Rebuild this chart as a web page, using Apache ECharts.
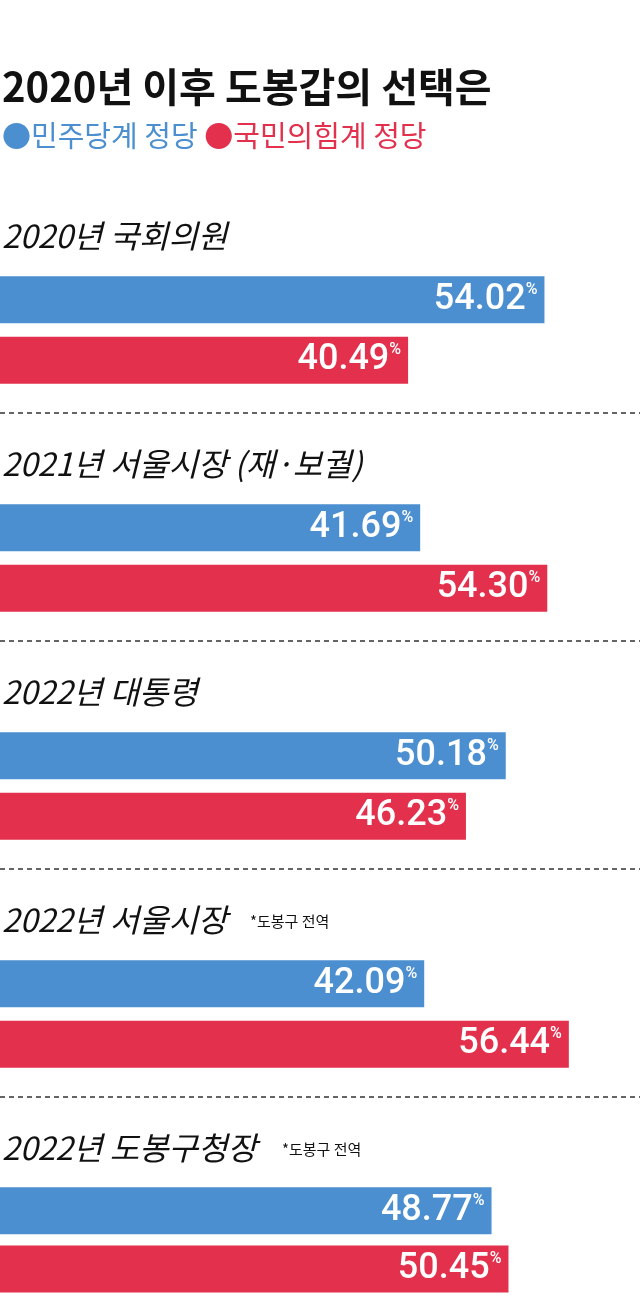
<!DOCTYPE html><html><head><meta charset="utf-8">
<script src="https://cdn.jsdelivr.net/npm/echarts@6/dist/echarts.min.js"></script>
<style>html,body{margin:0;padding:0;background:#fff}#c{width:640px;height:1298px}</style></head><body><div id="c"></div>
<script>
const sections=['2020년 국회의원','2021년 서울시장 (재·보궐)','2022년 대통령','2022년 서울시장','2022년 도봉구청장'];
const notes=['','','','*도봉구 전역','*도봉구 전역'];
const democratic=[54.02,41.69,50.18,42.09,48.77];
const ppp=[40.49,54.30,46.23,56.44,50.45];
const BLUE='#4b8fd0',RED='#e2304d';
const chart=echarts.init(document.getElementById('c'));
const grids=[],xA=[],yA=[],series=[],graphic=[];
const F='"Noto Sans CJK KR","Noto Sans",sans-serif';
sections.forEach((s,i)=>{
  const top=269.5+228*i;
  grids.push({left:0,right:0,top:top,height:121});
  xA.push({gridIndex:i,type:'value',min:0,max:63.5,show:false});
  yA.push({gridIndex:i,type:'category',data:['민주당계','국민의힘계'],inverse:true,show:false});
  series.push({type:'bar',xAxisIndex:i,yAxisIndex:i,barWidth:47,animation:false,
    data:[{value:democratic[i],itemStyle:{color:BLUE}},{value:ppp[i],itemStyle:{color:RED}}],
    label:{show:true,position:'insideRight',offset:[-2,0],formatter:p=>'{v|'+p.value.toFixed(2)+'}{p|%}',
      rich:{v:{color:'#fff',fontSize:36,fontWeight:500,fontFamily:'Roboto',letterSpacing:-2},
            p:{color:'#fff',fontSize:16,fontWeight:500,fontFamily:'Roboto',verticalAlign:'top',padding:[0,0,16,0]}}}});
  graphic.push({type:'text',left:2,top:top-50,style:{text:s,fontSize:32,fontStyle:'italic',fontFamily:F,fill:'#111',letterSpacing:-1}});
  if(notes[i]) graphic.push({type:'text',left:(i==3?250:282),top:top-40,style:{text:notes[i],fontSize:15,fontFamily:F,fill:'#111'}});
  if(i<4) graphic.push({type:'line',shape:{x1:0,y1:413+228*i,x2:640,y2:413+228*i},style:{stroke:'#333',lineWidth:1.5,lineDash:[5,4]}});
});
graphic.push({type:'text',left:2,top:67,style:{text:'2020년 이후 도봉갑의 선택은',fontSize:40,fontWeight:'bold',fontFamily:F,fill:'#111',letterSpacing:-1}});
graphic.push({type:'text',left:2,top:121,style:{rich:{a:{fill:BLUE,fontSize:29,fontFamily:F},b:{fill:RED,fontSize:29,fontFamily:F}},text:'{a|●민주당계 정당}  {b|●국민의힘계 정당}'}});
graphic.push({type:'text',left:8,top:1253,style:{text:'한국일보',fontSize:24,fontWeight:'bold',fontFamily:F,fill:'rgba(255,255,255,0.45)'}});
chart.setOption({animation:false,grid:grids,xAxis:xA,yAxis:yA,series:series,graphic:graphic});
</script></body></html>
